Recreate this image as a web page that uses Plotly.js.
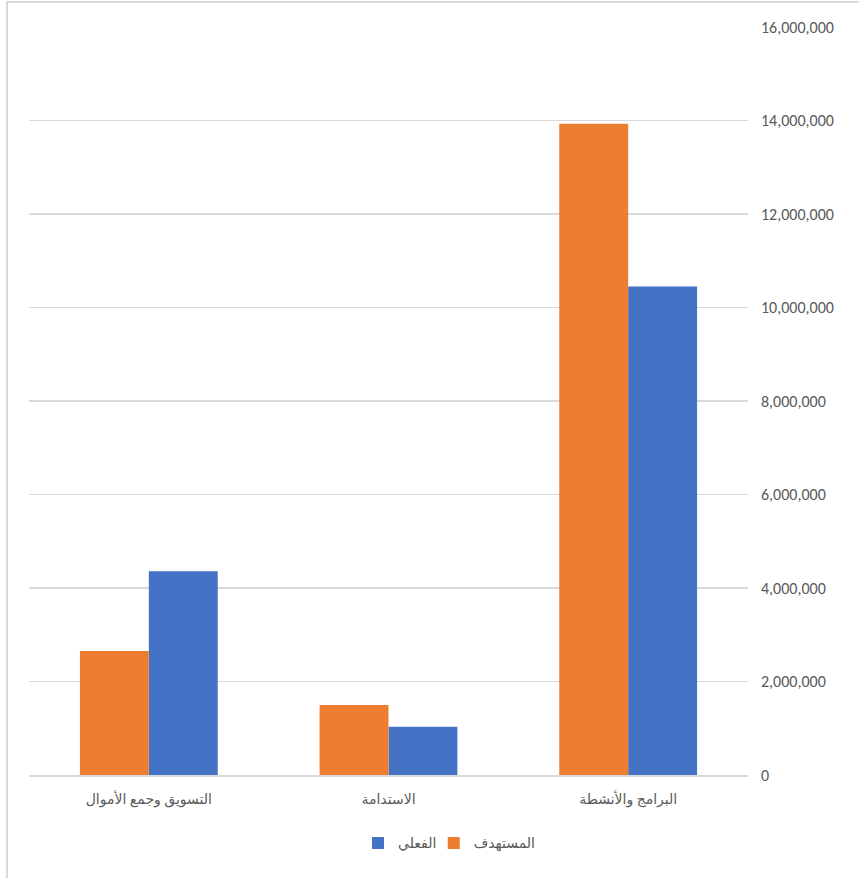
<!DOCTYPE html>
<html><head><meta charset="utf-8">
<script src="https://cdn.plot.ly/plotly-3.0.1.min.js"></script>
<style>
html,body{margin:0;padding:0;background:#fff;overflow:hidden}
#frame{position:absolute;left:6px;top:1px;width:900px;height:875px;border-left:2px solid #d9d9d9;border-top:2px solid #d9d9d9;border-bottom:2px solid #d9d9d9;}
#chart{position:absolute;left:0;top:0;width:859px;height:878px}
</style></head>
<body>
<div id="frame"></div>
<div id="chart"></div>
<script>
const categories = ["البرامج والأنشطة", "الاستدامة", "التسويق وجمع الأموال"];
const seriesNames = ["الفعلي", "المستهدف"];
const actual = [10450000, 1030000, 4360000];
const target = [13930000, 1500000, 2650000];
const tickValues = [0, 2000000, 4000000, 6000000, 8000000, 10000000, 12000000, 14000000, 16000000];
const tickLabels = ["0", "2,000,000", "4,000,000", "6,000,000", "8,000,000", "10,000,000", "12,000,000", "14,000,000", "16,000,000"];

const traces = [
  {type:'bar', name:seriesNames[0], x:categories, y:actual, marker:{color:'#4472c4'}, legend:'legend'},
  {type:'bar', name:seriesNames[1], x:categories, y:target, marker:{color:'#ed7d31'}, legend:'legend2'}
];
const legFont = {family:'Liberation Serif, DejaVu Sans', size:14, color:'#595959'};
const layout = {
  width:859, height:878,
  margin:{l:29, r:111, t:27, b:103},
  paper_bgcolor:'rgba(0,0,0,0)', plot_bgcolor:'rgba(0,0,0,0)',
  barmode:'group', bargap:0.425, bargroupgap:0,
  showlegend:true,
  legend:{orientation:'h', x:0.4576, xanchor:'left', y:-0.07, yanchor:'top', itemwidth:30, font:legFont},
  legend2:{orientation:'h', x:0.5629, xanchor:'left', y:-0.07, yanchor:'top', itemwidth:30, font:legFont},
  xaxis:{autorange:'reversed', showgrid:false, showline:true, linecolor:'#d9d9d9', linewidth:1.5,
    ticks:'', tickfont:{family:'Liberation Serif, DejaVu Sans', size:14, color:'#595959'}, ticklabelstandoff:11, fixedrange:true},
  yaxis:{side:'right', range:[0,16000000], tickvals:tickValues, ticktext:tickLabels,
    showgrid:true, gridcolor:'#d9d9d9', gridwidth:1.5, zeroline:false, showline:false, ticks:'',
    tickfont:{family:'Carlito, Liberation Sans Narrow, Liberation Sans', size:16, color:'#595959'}, ticklabelstandoff:12}
};
Plotly.newPlot('chart', traces, layout, {displayModeBar:false, staticPlot:true});
</script>
</body></html>
